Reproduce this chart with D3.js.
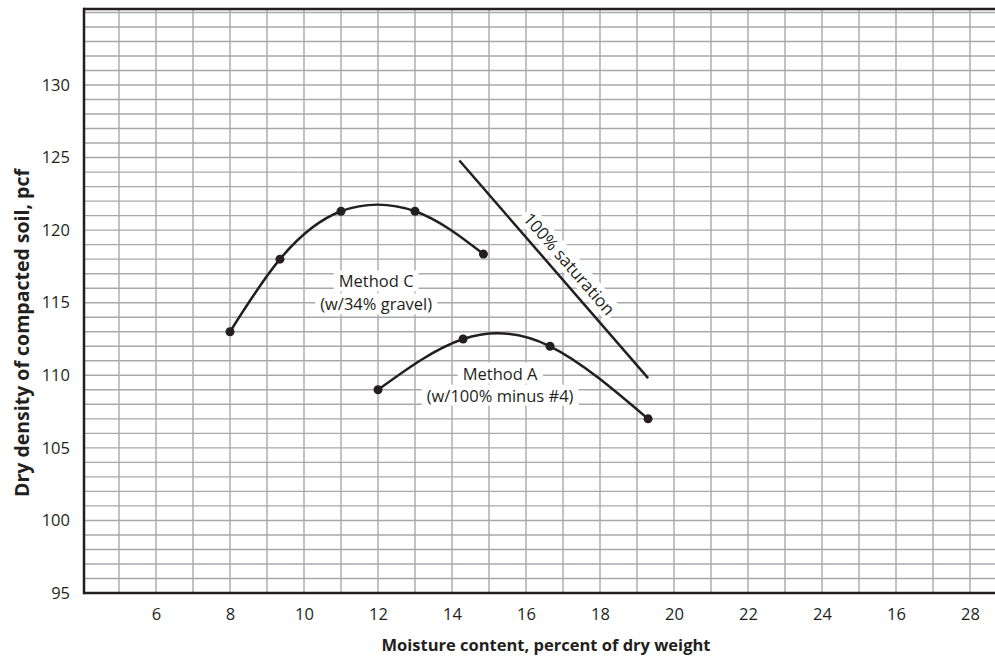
<!DOCTYPE html>
<html>
<head>
<meta charset="utf-8">
<script src="https://cdn.jsdelivr.net/npm/d3@7"></script>
<style>
  body { margin: 0; background: #fff; }
  svg { display: block; font-family: "Open Sans", sans-serif; }
</style>
</head>
<body>
<div id="chart"></div>
<script>
const width = 995;
const height = 658;
const plot = { left: 84, right: 995, top: 9, bottom: 593 };

// data
const methodC_x = [8, 9.35, 11, 13, 14.85];
const methodC_y = [113, 118, 121.3, 121.3, 118.35];
const methodA_x = [12, 14.3, 16.65, 19.3];
const methodA_y = [109, 112.5, 112, 107];
const saturation_x = [14.2, 19.3];
const saturation_y = [124.8, 109.8];

const xTicks = [6, 8, 10, 12, 14, 16, 18, 20, 22, 24, 26, 28];
const xTickLabels = ["6", "8", "10", "12", "14", "16", "18", "20", "22", "24", "16", "28"];
const yTicks = [95, 100, 105, 110, 115, 120, 125, 130];

const xScale = d3.scaleLinear().domain([5, 28]).range([119, 970]);
const yScale = d3.scaleLinear().domain([95, 130]).range([593, 85]);

const svg = d3.select("#chart")
    .append("svg")
    .attr("width", width)
    .attr("height", height);

// grid
const xMin = Math.ceil(xScale.invert(plot.left));
const xMax = Math.floor(xScale.invert(plot.right));
const yMax = Math.floor(yScale.invert(plot.top));

svg.selectAll(".xGrid")
    .data(d3.range(xMin, xMax + 1))
    .enter()
    .append("line")
    .attr("class", "xGrid")
    .attr("x1", d => xScale(d))
    .attr("x2", d => xScale(d))
    .attr("y1", plot.top)
    .attr("y2", plot.bottom)
    .attr("stroke", "#a7a9ac")
    .attr("stroke-width", 1.4);

svg.selectAll(".yGrid")
    .data(d3.range(96, yMax + 1))
    .enter()
    .append("line")
    .attr("class", "yGrid")
    .attr("x1", plot.left)
    .attr("x2", plot.right)
    .attr("y1", d => yScale(d))
    .attr("y2", d => yScale(d))
    .attr("stroke", "#a7a9ac")
    .attr("stroke-width", 1.4);

// axes
const xAxis = svg.append("g")
    .attr("transform", `translate(0,${plot.bottom})`)
    .call(d3.axisBottom(xScale)
        .tickValues(xTicks)
        .tickSize(0)
        .tickPadding(15)
        .tickFormat((d, i) => xTickLabels[i]));

const yAxis = svg.append("g")
    .attr("transform", `translate(${plot.left},0)`)
    .call(d3.axisLeft(yScale)
        .tickValues(yTicks)
        .tickSize(0)
        .tickPadding(14));

[xAxis, yAxis].forEach(a => {
    a.select(".domain").remove();
    a.selectAll("text")
        .style("font-size", "16.5px")
        .style("font-family", "'Open Sans', sans-serif")
        .attr("fill", "#231f20");
});

svg.append("line")
    .attr("x1", plot.left).attr("x2", plot.right)
    .attr("y1", plot.bottom).attr("y2", plot.bottom)
    .attr("stroke", "#231f20").attr("stroke-width", 2.5);
svg.append("line")
    .attr("x1", plot.left).attr("x2", plot.right)
    .attr("y1", plot.top).attr("y2", plot.top)
    .attr("stroke", "#231f20").attr("stroke-width", 2.5);
svg.append("line")
    .attr("x1", plot.left).attr("x2", plot.left)
    .attr("y1", plot.top - 1.25).attr("y2", plot.bottom + 1.25)
    .attr("stroke", "#231f20").attr("stroke-width", 2.5);

// axis titles
svg.append("text")
    .attr("x", 546)
    .attr("y", 651)
    .style("text-anchor", "middle")
    .style("font-size", "16.5px")
    .style("font-weight", "bold")
    .attr("fill", "#231f20")
    .text("Moisture content, percent of dry weight");

svg.append("text")
    .attr("transform", "rotate(-90)")
    .attr("x", -333)
    .attr("y", 29)
    .style("text-anchor", "middle")
    .style("font-size", "19.5px")
    .style("font-weight", "bold")
    .attr("fill", "#231f20")
    .text("Dry density of compacted soil, pcf");

// curves
const curveLine = d3.line()
    .x(d => xScale(d[0]))
    .y(d => yScale(d[1]))
    .curve(d3.curveNatural);

const series = [
    d3.zip(methodC_x, methodC_y),
    d3.zip(methodA_x, methodA_y)
];

// labels with white boxes
function boxedLabel(lines, cx, cy, lineGap) {
    const g = svg.append("g");
    lines.forEach((t, i) => {
        const txt = g.append("text")
            .attr("x", cx)
            .attr("y", cy + i * lineGap)
            .attr("dy", "0.35em")
            .style("text-anchor", "middle")
            .style("font-size", "16.5px")
            .attr("fill", "#231f20")
            .text(t);
        const b = txt.node().getBBox();
        g.insert("rect", "text")
            .attr("x", b.x - 5)
            .attr("y", b.y + 1)
            .attr("width", b.width + 10)
            .attr("height", b.height - 2)
            .attr("fill", "#fff");
    });
}

boxedLabel(["Method C", "(w/34% gravel)"], xScale(11.95), yScale(116.45), 23);
boxedLabel(["Method A", "(w/100% minus #4)"], xScale(15.3), yScale(110.1), 22);

// saturation line + label
svg.append("line")
    .attr("x1", xScale(saturation_x[0]))
    .attr("y1", yScale(saturation_y[0]))
    .attr("x2", xScale(saturation_x[1]))
    .attr("y2", yScale(saturation_y[1]))
    .attr("stroke", "#231f20")
    .attr("stroke-width", 2.5);

const angle = Math.atan2(
    yScale(saturation_y[1]) - yScale(saturation_y[0]),
    xScale(saturation_x[1]) - xScale(saturation_x[0])) * 180 / Math.PI;

const satG = svg.append("g")
    .attr("transform", `translate(569,264) rotate(${angle})`);
const satText = satG.append("text")
    .attr("dy", "0.35em")
    .style("text-anchor", "middle")
    .style("font-size", "17px")
    .attr("fill", "#231f20")
    .text("100% saturation");
const sb = satText.node().getBBox();
satG.insert("rect", "text")
    .attr("x", sb.x - 3)
    .attr("y", sb.y + 1)
    .attr("width", sb.width + 6)
    .attr("height", sb.height - 2)
    .attr("fill", "#fff");

series.forEach(pts => {
    svg.append("path")
        .datum(pts)
        .attr("fill", "none")
        .attr("stroke", "#231f20")
        .attr("stroke-width", 2.5)
        .attr("d", curveLine);

    svg.selectAll(null)
        .data(pts)
        .enter()
        .append("circle")
        .attr("cx", d => xScale(d[0]))
        .attr("cy", d => yScale(d[1]))
        .attr("r", 4.5)
        .attr("fill", "#231f20");
});
</script>
</body>
</html>
